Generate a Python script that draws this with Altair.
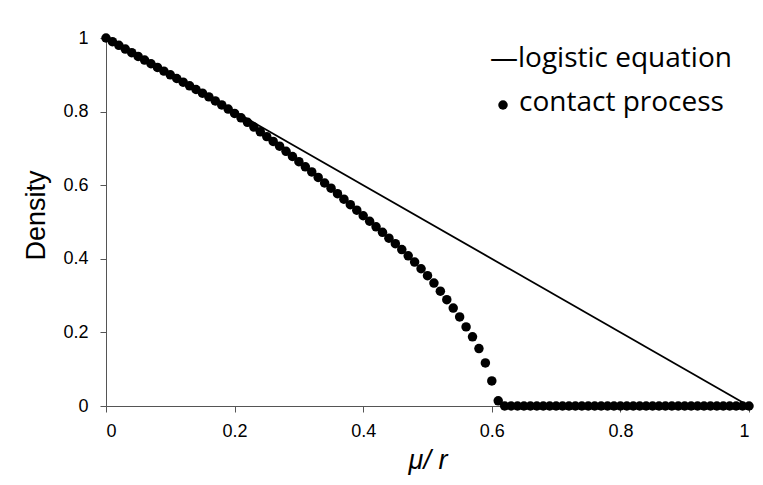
import altair as alt
import pandas as pd

# mu/r values (x) for the contact process dots
mu_r = [
    0.00, 0.01, 0.02, 0.03, 0.04, 0.05, 0.06, 0.07, 0.08, 0.09,
    0.10, 0.11, 0.12, 0.13, 0.14, 0.15, 0.16, 0.17, 0.18, 0.19,
    0.20, 0.21, 0.22, 0.23, 0.24, 0.25, 0.26, 0.27, 0.28, 0.29,
    0.30, 0.31, 0.32, 0.33, 0.34, 0.35, 0.36, 0.37, 0.38, 0.39,
    0.40, 0.41, 0.42, 0.43, 0.44, 0.45, 0.46, 0.47, 0.48, 0.49,
    0.50, 0.51, 0.52, 0.53, 0.54, 0.55, 0.56, 0.57, 0.58, 0.59,
    0.60, 0.61, 0.62, 0.63, 0.64, 0.65, 0.66, 0.67, 0.68, 0.69,
    0.70, 0.71, 0.72, 0.73, 0.74, 0.75, 0.76, 0.77, 0.78, 0.79,
    0.80, 0.81, 0.82, 0.83, 0.84, 0.85, 0.86, 0.87, 0.88, 0.89,
    0.90, 0.91, 0.92, 0.93, 0.94, 0.95, 0.96, 0.97, 0.98, 0.99,
    1.00,
]

# contact process density
contact_density = [
    1.000, 0.990, 0.980, 0.970, 0.960, 0.950, 0.940, 0.930, 0.920, 0.910,
    0.900, 0.890, 0.880, 0.870, 0.860, 0.850, 0.840, 0.829, 0.818, 0.807,
    0.795, 0.783, 0.771, 0.758, 0.745, 0.732, 0.719, 0.706, 0.692, 0.678,
    0.664, 0.650, 0.636, 0.621, 0.606, 0.592, 0.577, 0.562, 0.547, 0.532,
    0.517, 0.502, 0.487, 0.472, 0.456, 0.441, 0.425, 0.408, 0.391, 0.373,
    0.354, 0.334, 0.312, 0.289, 0.266, 0.242, 0.215, 0.188, 0.156, 0.117,
    0.068, 0.014, 0.000, 0.000, 0.000, 0.000, 0.000, 0.000, 0.000, 0.000,
    0.000, 0.000, 0.000, 0.000, 0.000, 0.000, 0.000, 0.000, 0.000, 0.000,
    0.000, 0.000, 0.000, 0.000, 0.000, 0.000, 0.000, 0.000, 0.000, 0.000,
    0.000, 0.000, 0.000, 0.000, 0.000, 0.000, 0.000, 0.000, 0.000, 0.000,
    0.000,
]

# logistic equation line
logistic_x = [0.0, 1.0]
logistic_y = [1.0, 0.0]

tick_values = [0, 0.2, 0.4, 0.6, 0.8, 1]
legend_labels = ["\u2014logistic equation", "contact process"]

dots = pd.DataFrame({"x": mu_r, "y": contact_density})
line_df = pd.DataFrame({"x": logistic_x, "y": logistic_y})

xscale = alt.Scale(domain=[0, 1], nice=False, zero=False)
yscale = alt.Scale(domain=[0, 1], nice=False, zero=False)

axis_common = dict(
    values=tick_values,
    format="~g",
    grid=False,
    labelFont="Liberation Sans",
    labelFontSize=18,
    labelColor="black",
    tickSize=6,
    tickColor="#555555",
    domainColor="#555555",
    titleColor="black",
    titleFontWeight="normal",
)

xaxis = alt.Axis(
    title="\u03bc/ r",
    titleFont="Liberation Sans",
    titleFontStyle="italic",
    titleFontSize=27,
    titlePadding=7,
    labelPadding=10,
    **axis_common,
)
yaxis = alt.Axis(
    title="Density",
    titleFont="Liberation Sans",
    titleFontSize=27,
    titlePadding=12,
    titleY=177,
    labelPadding=12,
    **axis_common,
)

DOT_SIZE = 90

line = alt.Chart(line_df).mark_line(color="black", strokeWidth=1.8).encode(
    x=alt.X("x:Q", scale=xscale, axis=xaxis),
    y=alt.Y("y:Q", scale=yscale, axis=yaxis),
)

points = alt.Chart(dots).mark_circle(color="black", size=DOT_SIZE, opacity=1).encode(
    x=alt.X("x:Q", scale=xscale),
    y=alt.Y("y:Q", scale=yscale),
)

leg1 = alt.Chart(pd.DataFrame({"label": [legend_labels[0]]})).mark_text(
    font="Open Sans", fontSize=28, align="left", baseline="alphabetic", color="black"
).encode(text="label:N", x=alt.value(384), y=alt.value(29))

leg2_dot = alt.Chart(pd.DataFrame({"label": [legend_labels[1]]})).mark_circle(
    color="black", size=DOT_SIZE, opacity=1
).encode(x=alt.value(397), y=alt.value(67))

leg2 = alt.Chart(pd.DataFrame({"label": [legend_labels[1]]})).mark_text(
    font="Open Sans", fontSize=28, align="left", baseline="alphabetic", color="black"
).encode(text="label:N", x=alt.value(413), y=alt.value(73))

chart = (
    alt.layer(line, points, leg1, leg2_dot, leg2)
    .properties(
        width=643,
        height=368,
        autosize=alt.AutoSizeParams(type="none"),
        padding={"left": 98, "top": 30, "right": 6, "bottom": 70},
    )
    .configure_view(stroke="transparent")
)

chart.save("out.html", embed_options={"renderer": "svg", "actions": False})
